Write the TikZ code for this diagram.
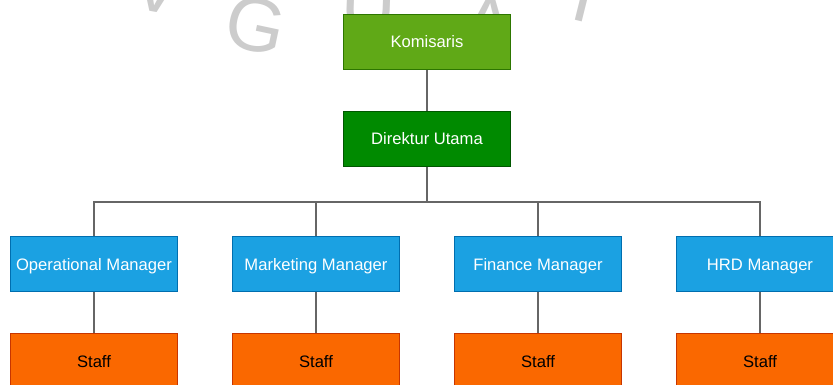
\documentclass[tikz,border=0pt]{standalone}
\usepackage{fontspec}
\setmainfont{Liberation Sans}
\definecolor{komfill}{HTML}{60A917}
\definecolor{komline}{HTML}{2D7600}
\definecolor{dirfill}{HTML}{008A00}
\definecolor{dirline}{HTML}{005700}
\definecolor{mgrfill}{HTML}{1BA1E2}
\definecolor{mgrline}{HTML}{006EAF}
\definecolor{stffill}{HTML}{FA6800}
\definecolor{stfline}{HTML}{C73500}
\definecolor{conn}{HTML}{666666}
\definecolor{wmark}{HTML}{CCCCCC}
\begin{document}
\begin{tikzpicture}[x=1pt,y=-1pt,
  orgbox/.style={minimum width=167pt, minimum height=55pt, inner sep=0pt,
    draw, line width=1pt, text height=12pt, text depth=0pt,
    font=\fontsize{16.6}{19}\selectfont},
  kombox/.style={orgbox, fill=komfill, draw=komline, text=white},
  dirbox/.style={orgbox, fill=dirfill, draw=dirline, text=white},
  mgrbox/.style={orgbox, fill=mgrfill, draw=mgrline, text=white},
  stfbox/.style={orgbox, fill=stffill, draw=stfline, text=black},
  link/.style={draw=conn, line width=1.3pt},
  wm/.style={text=wmark, font=\fontsize{76}{76}\selectfont, inner sep=0pt}]
\useasboundingbox (0,0) rectangle (833,385);
\clip (0,0) rectangle (833,385);
\fill[white] (0,0) rectangle (833,385);

% faint logo lettering in the background
\node[wm, rotate=-10] (wv) at (158,-14) {V};
\node[wm, rotate=-12] (wg) at (256,25) {G};
\node[wm, rotate=-2] (wu) at (369,4) {U};
\node[wm, rotate=-6] (wa) at (488,24) {A};
\node[wm, rotate=-14] (wi) at (585,-4) {I};

% boxes
\node[kombox] (kom) at (427,42) {Komisaris};
\node[dirbox] (dir) at (427,139) {Direktur Utama};

\node[mgrbox] (om) at (94,264) {Operational Manager};
\node[mgrbox] (mm) at (316,264) {Marketing Manager};
\node[mgrbox] (fm) at (538,264) {Finance Manager};
\node[mgrbox] (hm) at (760,264) {HRD Manager};

\node[stfbox] (s1) at (94,361) {Staff};
\node[stfbox] (s2) at (316,361) {Staff};
\node[stfbox] (s3) at (538,361) {Staff};
\node[stfbox] (s4) at (760,361) {Staff};

% connectors
\coordinate (bus) at (427,202);
\draw[link] (kom) -- (dir);
\draw[link] (dir.south) -- (bus) -| (om.north);
\draw[link] (bus) -| (mm.north);
\draw[link] (bus) -| (fm.north);
\draw[link] (bus) -| (hm.north);
\draw[link] (om) -- (s1);
\draw[link] (mm) -- (s2);
\draw[link] (fm) -- (s3);
\draw[link] (hm) -- (s4);
\end{tikzpicture}
\end{document}
